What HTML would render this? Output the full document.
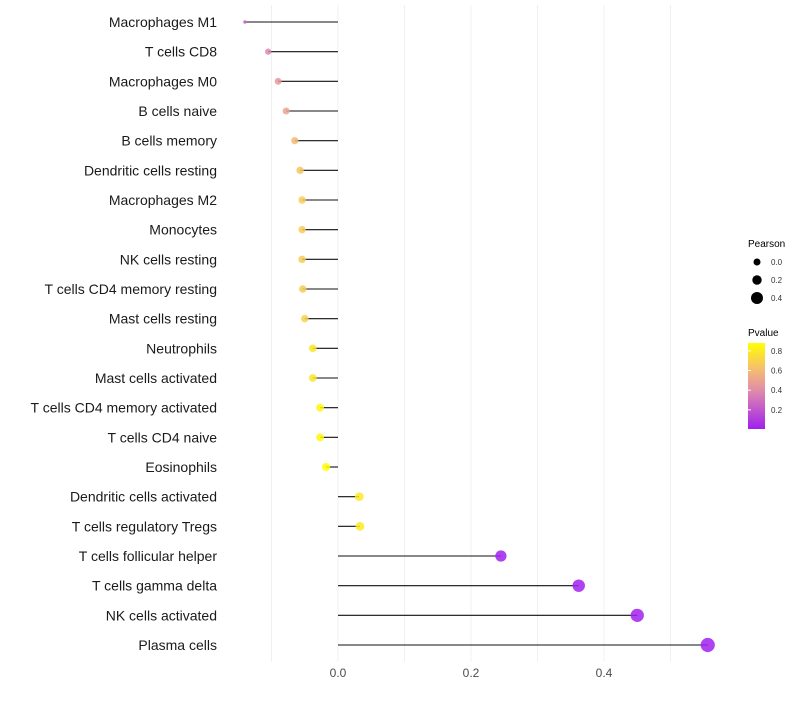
<!DOCTYPE html>
<html><head><meta charset="utf-8"><style>
body{margin:0;background:#fff;font-family:"Liberation Sans",sans-serif}
</style></head><body>
<svg id="chart" width="800" height="700" xmlns="http://www.w3.org/2000/svg"></svg>
<script>
const categories=["Macrophages M1","T cells CD8","Macrophages M0","B cells naive","B cells memory","Dendritic cells resting","Macrophages M2","Monocytes","NK cells resting","T cells CD4 memory resting","Mast cells resting","Neutrophils","Mast cells activated","T cells CD4 memory activated","T cells CD4 naive","Eosinophils","Dendritic cells activated","T cells regulatory  Tregs","T cells follicular helper","T cells gamma delta","NK cells activated","Plasma cells"];
const pearson=[-0.140,-0.105,-0.090,-0.078,-0.065,-0.057,-0.054,-0.054,-0.054,-0.053,-0.050,-0.038,-0.038,-0.027,-0.027,-0.018,0.032,0.033,0.245,0.362,0.450,0.556];
const pvalue=[0.25,0.38,0.45,0.5,0.6,0.65,0.67,0.67,0.67,0.68,0.7,0.78,0.78,0.85,0.85,0.9,0.8,0.8,0.01,0.01,0.01,0.01];
const xTicks=[0,0.2,0.4];
const xGrid=[-0.1,0.1,0.3,0.5];
const sizeTicks=[0.0,0.2,0.4];
const pTicks=[0.2,0.4,0.6,0.8];

const NS="http://www.w3.org/2000/svg";
const svg=document.getElementById('chart');
const x=v=>338+v*665;
const y=i=>22+i*(623/21);
const rad=v=>Math.sqrt(Math.max(2.9,17+60*v-(v<-0.1?170*(-0.1-v):0)));
function col(p){
  const t=Math.max(0,Math.min(1,(p-0.005)/(0.88-0.005)));
  const stops=[[0,[160,32,240]],[0.45,[225,140,170]],[0.7,[245,190,110]],[1,[255,255,0]]];
  for(let k=0;k<stops.length-1;k++){const a=stops[k],b=stops[k+1];
    if(t<=b[0]){const f=(t-a[0])/(b[0]-a[0]);return 'rgb('+a[1].map((c,j)=>Math.round(c+(b[1][j]-c)*f)).join(',')+')';}}
  return 'rgb(255,255,0)';
}
function el(tag,attrs,parent){const e=document.createElementNS(NS,tag);for(const k in attrs)e.setAttribute(k,attrs[k]);(parent||svg).appendChild(e);return e;}

xGrid.concat(xTicks).forEach(v=>{
  const g=el('line',{x1:x(v),x2:x(v),y1:5,y2:662,stroke:'#f0f0f0','stroke-width':1});
  
  
});
xTicks.forEach(v=>{
  const t=el('text',{x:x(v),y:677,'text-anchor':'middle','font-size':12,fill:'#4d4d4d'});
  t.textContent=v.toFixed(1);
  
  
});
categories.forEach((c,i)=>{
  const t=el('text',{x:217,y:y(i)+5,'text-anchor':'end','font-size':14,fill:'#1a1a1a'});
  t.textContent=c;
  
  
  const s=el('line',{x1:x(0),x2:x(pearson[i]),y1:y(i),y2:y(i),stroke:'#111','stroke-width':1.1});
  
  
  const d=el('circle',{cx:x(pearson[i]),cy:y(i),r:rad(pearson[i]),fill:col(pvalue[i]),'fill-opacity':0.85});
  
  
});
let lt=el('text',{x:748,y:247,'font-size':10,fill:'#000'});lt.textContent='Pearson';


const legR=[3.5,4.7,6];
sizeTicks.forEach((v,k)=>{
  const cy=262+k*18;
  const c=el('circle',{cx:757,cy:cy,r:legR[k],fill:'#000'});
  
  
  const t=el('text',{x:771,y:cy+3,'font-size':8,fill:'#333'});t.textContent=v.toFixed(1);
  
  
});
lt=el('text',{x:748,y:336,'font-size':10,fill:'#000'});lt.textContent='Pvalue';


const defs=el('defs',{});
const lg=el('linearGradient',{id:'pg',x1:0,y1:1,x2:0,y2:0},defs);
for(let k=0;k<=10;k++){el('stop',{offset:k/10,'stop-color':col(0.005+k/10*0.875)},lg);}
const bar=el('rect',{x:748,y:343,width:17,height:86,fill:'url(#pg)'});


const py=p=>429-(p-0.005)/0.875*86;
pTicks.forEach(p=>{
  const t=el('text',{x:771,y:py(p)+3,'font-size':8,fill:'#333'});t.textContent=p.toFixed(1);
  
  
  const l=el('line',{x1:748,x2:751,y1:py(p),y2:py(p),stroke:'#fff'});
  
  
});
</script>
</body></html>
